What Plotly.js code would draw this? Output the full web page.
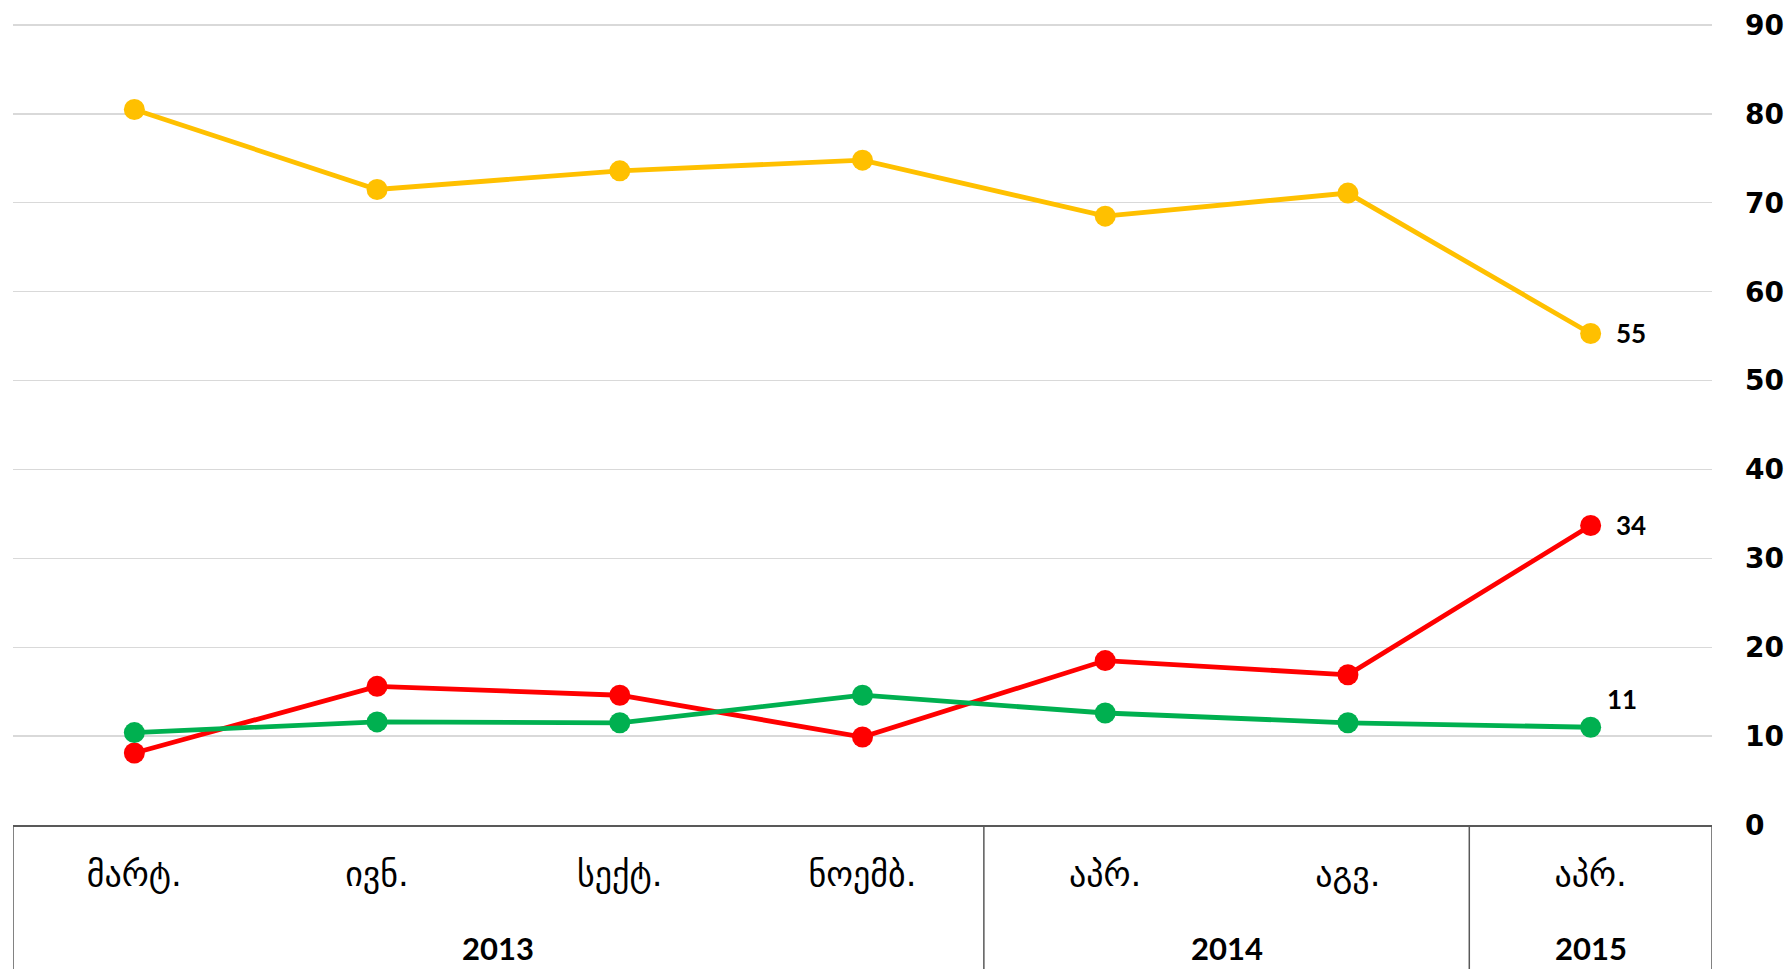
<!DOCTYPE html>
<html>
<head>
<meta charset="utf-8">
<script src="https://cdn.plot.ly/plotly-3.0.1.min.js"></script>
<style>
html,body{margin:0;padding:0;background:#fff;}
#chart{width:1791px;height:969px;}
</style>
</head>
<body>
<div id="chart"></div>
<script>
// Month labels (Georgian) and the year each belongs to
const months = ["მარტ.", "ივნ.", "სექტ.", "ნოემბ.", "აპრ.", "აგვ.", "აპრ."];
const years  = ["2013", "2013", "2013", "2013", "2014", "2014", "2015"];

// Series values
const yellowSeries = [80.5, 71.5, 73.6, 74.8, 68.5, 71.1, 55.3];
const redSeries    = [8.1, 15.6, 14.6, 9.9, 18.5, 16.9, 33.7];
const greenSeries  = [10.4, 11.6, 11.5, 14.6, 12.6, 11.5, 11.0];

// y-axis ticks
const yTicks = [0, 10, 20, 30, 40, 50, 60, 70, 80, 90];

const idx = months.map((_, i) => i);
const last = idx.length - 1;

function series(vals, color) {
  return {
    x: idx, y: vals, type: 'scatter', mode: 'lines+markers',
    line: {color: color, width: 4.8},
    marker: {color: color, size: 21},
    cliponaxis: false, hoverinfo: 'skip', showlegend: false
  };
}

const traces = [
  series(yellowSeries, '#FFC000'),
  series(redSeries, '#FF0000'),
  series(greenSeries, '#00B050')
];

// Year groups derived from the years array
const groups = [];
years.forEach((y, i) => {
  const g = groups[groups.length - 1];
  if (g && g.year === y) g.end = i; else groups.push({year: y, start: i, end: i});
});

const lineColor = '#595959';
const shapes = [];
shapes.push({type: 'line', xref: 'x', yref: 'paper', x0: -0.5, x1: -0.5, y0: 0, y1: -0.3,
  line: {color: lineColor, width: 1.5}});
groups.forEach(g => {
  shapes.push({type: 'line', xref: 'x', yref: 'paper', x0: g.end + 0.5, x1: g.end + 0.5, y0: 0, y1: -0.3,
    line: {color: lineColor, width: 1.5}});
});

const annotations = groups.map(g => ({
  x: (g.start + g.end) / 2, xref: 'x', y: -0.153, yref: 'paper',
  text: '<b>' + g.year + '</b>', showarrow: false, xanchor: 'center', yanchor: 'middle',
  font: {family: 'Lato, "Open Sans", sans-serif', size: 31, color: '#000'}
}));

const lab = (vals, xs, ys) => ({
  x: last, xref: 'x', y: vals[last], yref: 'y',
  text: String(Math.round(vals[last])), showarrow: false, xanchor: 'left', yanchor: 'middle',
  xshift: xs, yshift: ys,
  font: {family: 'Lato, "Open Sans", sans-serif', size: 26, color: '#000', weight: 'bold'}
});
annotations.push(lab(yellowSeries, 23, 0));
annotations.push(lab(redSeries, 23, 0));
annotations.push(lab(greenSeries, 14, 28));

const layout = {
  width: 1791, height: 969,
  margin: {l: 12.5, r: 78.5, t: 24, b: 143.5},
  paper_bgcolor: '#fff', plot_bgcolor: '#fff',
  showlegend: false,
  xaxis: {
    range: [-0.5, last + 0.5],
    tickmode: 'array', tickvals: idx, ticktext: months,
    showgrid: false, zeroline: false,
    showline: true, linecolor: lineColor, linewidth: 1.5,
    ticks: '', ticklabelstandoff: 19,
    tickfont: {family: '"DejaVu Sans", sans-serif', size: 34, color: '#000'},
    fixedrange: true
  },
  yaxis: {
    range: [0, 90.12], side: 'right',
    tickmode: 'array', tickvals: yTicks, ticktext: yTicks.map(String),
    showgrid: true, gridcolor: '#D9D9D9', gridwidth: 1.3,
    zeroline: false, showline: false, ticks: '',
    ticklabelstandoff: 32,
    tickfont: {family: '"DejaVu Sans", sans-serif', size: 28, color: '#000', weight: 'bold'},
    fixedrange: true
  },
  shapes: shapes,
  annotations: annotations
};

Plotly.newPlot('chart', traces, layout, {staticPlot: true, displayModeBar: false});
</script>
</body>
</html>
